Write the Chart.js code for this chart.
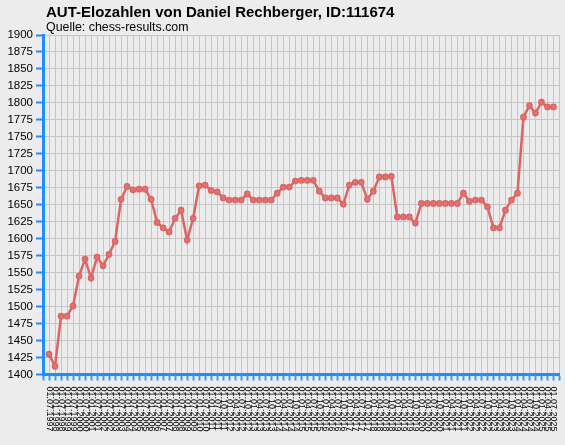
<!DOCTYPE html>
<html>
<head>
<meta charset="utf-8">
<script src="https://cdn.jsdelivr.net/npm/chart.js@4.4.1/dist/chart.umd.min.js"></script>
<style>
  html, body { margin: 0; padding: 0; background: #ECECEC; }
  #wrap { position: relative; width: 565px; height: 445px; }
  #title { position: absolute; left: 46px; top: 4px; font: bold 15px "Liberation Sans", Arial, sans-serif; line-height: 15px; color: #000; white-space: nowrap; }
  #subtitle { position: absolute; left: 46px; top: 21px; font: 12.4px "Liberation Sans", Arial, sans-serif; line-height: 12.4px; color: #000; white-space: nowrap; }
  canvas { position: absolute; left: 0; top: 0; }
</style>
</head>
<body>
<div id="wrap">
  <canvas id="c" width="565" height="445"></canvas>
  <div id="title">AUT-Elozahlen von Daniel Rechberger, ID:111674</div>
  <div id="subtitle">Quelle: chess-results.com</div>
</div>
<script>
const dateLabels = [
  "01.07.1997","01.01.1998","01.07.1998","01.01.1999","01.07.1999","01.01.2000","01.07.2000","01.01.2001","01.07.2001","01.01.2002",
  "01.07.2002","01.01.2003","01.07.2003","01.01.2004","01.07.2004","01.01.2005","01.07.2005","01.01.2006","01.07.2006","01.01.2007",
  "01.07.2007","01.01.2008","01.07.2008","01.01.2009","01.07.2009","01.01.2010","01.07.2010","01.01.2011","01.07.2011","01.10.2011",
  "01.01.2012","01.04.2012","01.07.2012","01.10.2012","01.01.2013","01.04.2013","01.07.2013","01.10.2013","01.01.2014","01.04.2014",
  "01.07.2014","01.10.2014","01.01.2015","01.04.2015","01.07.2015","01.10.2015","01.01.2016","01.04.2016","01.07.2016","01.10.2016",
  "01.01.2017","01.04.2017","01.07.2017","01.10.2017","01.01.2018","01.04.2018","01.07.2018","01.10.2018","01.01.2019","01.04.2019",
  "01.07.2019","01.10.2019","01.01.2020","01.04.2020","01.07.2020","01.10.2020","01.01.2021","01.04.2021","01.07.2021","01.10.2021",
  "01.01.2022","01.04.2022","01.07.2022","01.10.2022","01.01.2023","01.04.2023","01.07.2023","01.10.2023","01.01.2024","01.04.2024",
  "01.07.2024","01.10.2024","01.01.2025","01.04.2025","01.07.2025"
];
const eloValues = [
  1430,1412,1486,1486,1501,1545,1570,1542,1573,1560,
  1577,1596,1658,1677,1672,1673,1673,1658,1624,1616,
  1610,1630,1642,1598,1630,1678,1679,1671,1669,1660,
  1657,1657,1657,1666,1657,1657,1657,1657,1667,1676,
  1676,1685,1686,1686,1686,1670,1660,1660,1660,1651,
  1679,1683,1683,1658,1670,1691,1691,1692,1632,1632,
  1632,1623,1652,1652,1652,1652,1652,1652,1652,1667,
  1655,1657,1657,1647,1616,1616,1642,1657,1667,1779,
  1796,1785,1801,1794,1794
];
const yMin = 1400, yMax = 1900, yStep = 25;

const points = eloValues.map((v, i) => ({ x: i, y: v }));
const AXIS_BLUE = '#1E8FFF';

const bgPlugin = {
  id: 'bg',
  beforeDraw(chart) {
    const ctx = chart.ctx;
    ctx.save();
    ctx.fillStyle = '#ECECEC';
    ctx.fillRect(0, 0, chart.width, chart.height);
    ctx.restore();
  }
};

const xLabelPlugin = {
  id: 'xlabels',
  afterDraw(chart) {
    const ctx = chart.ctx;
    const xs = chart.scales.x;
    const top = chart.chartArea.bottom + 12;
    ctx.save();
    ctx.font = '9px "Liberation Sans", Arial, sans-serif';
    ctx.fillStyle = '#000';
    ctx.textAlign = 'left';
    ctx.textBaseline = 'middle';
    dateLabels.forEach((lab, i) => {
      const px = xs.getPixelForValue(i);
      ctx.save();
      ctx.translate(px, top);
      ctx.rotate(Math.PI / 2);
      ctx.fillText(lab, 0, 0);
      ctx.restore();
    });
    ctx.restore();
  }
};

new Chart(document.getElementById('c'), {
  type: 'line',
  data: {
    datasets: [{
      data: points,
      borderColor: '#DD6464',
      borderWidth: 2.5,
      backgroundColor: '#E27373',
      pointBackgroundColor: '#E27373',
      pointBorderColor: '#DD6464',
      pointBorderWidth: 1.5,
      pointRadius: 2.6,
      tension: 0,
      fill: false
    }]
  },
  options: {
    responsive: false,
    devicePixelRatio: 1,
    animation: false,
    layout: { padding: { left: 0, top: 35, right: 5.5, bottom: 0 } },
    plugins: { legend: { display: false }, tooltip: { enabled: false }, title: { display: false } },
    scales: {
      x: {
        type: 'linear',
        min: -1,
        max: dateLabels.length,
        afterFit(scale) { scale.height = 70.5; },
        ticks: { stepSize: 1, display: false },
        grid: { color: '#C6C6C6', lineWidth: 1, tickColor: '#3A9BFF', tickLength: 6, tickWidth: 2 },
        border: { color: AXIS_BLUE, width: 3 }
      },
      y: {
        min: yMin,
        max: yMax,
        afterFit(scale) { scale.width = 43; },
        ticks: {
          stepSize: yStep,
          color: '#000',
          padding: 3,
          callback: (v) => String(v),
          font: { family: '"Liberation Sans", Arial, sans-serif', size: 11.5 }
        },
        grid: { color: '#C6C6C6', lineWidth: 1, tickColor: AXIS_BLUE, tickLength: 7, tickWidth: 2 },
        border: { color: AXIS_BLUE, width: 3 }
      }
    }
  },
  plugins: [bgPlugin, xLabelPlugin]
});
</script>
</body>
</html>
